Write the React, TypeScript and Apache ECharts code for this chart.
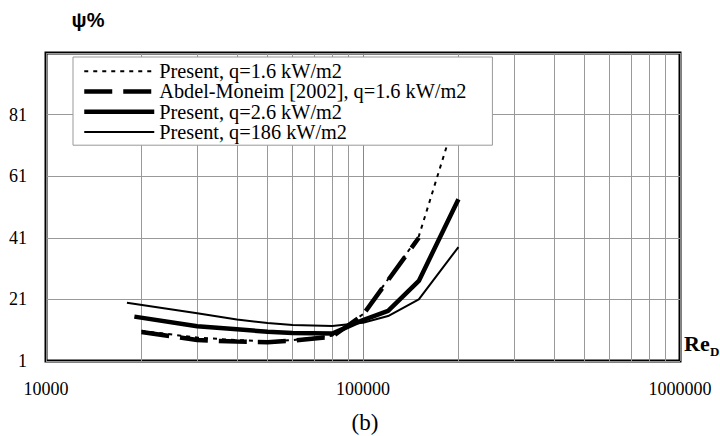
import React, { useEffect, useRef } from "react";
import * as echarts from "echarts";

const seriesNames = [
  "Present, q=1.6 kW/m2",
  "Abdel-Moneim [2002], q=1.6 kW/m2",
  "Present, q=2.6 kW/m2",
  "Present, q=186 kW/m2",
];

const rePresent16 = [20000, 30000, 40000, 50000, 60000, 80000, 100000, 150000, 200000];
const psiPresent16 = [10.8, 8.6, 7.8, 7.4, 7.8, 9.2, 16.2, 41.5, 83];

const reAbdel = [20000, 30000, 40000, 50000, 60000, 80000, 100000, 150000];
const psiAbdel = [10.4, 7.8, 7.3, 7.1, 7.6, 8.9, 16.0, 41.0];

const rePresent26 = [19000, 30000, 40000, 50000, 60000, 80000, 100000, 120000, 150000, 200000];
const psiPresent26 = [15.4, 12.3, 11.3, 10.5, 10.1, 9.9, 14.3, 17.3, 27.0, 53.5];

const rePresent186 = [18000, 30000, 40000, 50000, 60000, 80000, 100000, 120000, 150000, 200000];
const psiPresent186 = [19.9, 16.5, 14.5, 13.3, 12.7, 12.4, 13.4, 15.6, 21.0, 38.0];

const xTicks = [10000, 100000, 1000000];
const yMin = 1;
const yMax = 101;
const yStep = 20;

const pairs = (xs: number[], ys: number[]) => xs.map((x, i) => [x, ys[i]]);

export default function App() {
  const ref = useRef<HTMLDivElement>(null);
  useEffect(() => {
    if (!ref.current) return;
    const chart = echarts.init(ref.current, undefined, { renderer: "svg" });
    const serif = "Liberation Serif";
    chart.setOption({
      animation: false,
      backgroundColor: "#ffffff",
      grid: {
        left: 46,
        right: 40,
        top: 53,
        bottom: 75,
        show: true,
        borderColor: "#000",
        borderWidth: 3,
        backgroundColor: "transparent",
      },
      legend: {
        orient: "vertical",
        left: 73,
        top: 57,
        padding: [4, 26, 3, 9],
        itemGap: 0,
        itemWidth: 70,
        itemHeight: 14,
        selectedMode: false,
        backgroundColor: "#fff",
        borderColor: "#999",
        borderWidth: 1,
        itemStyle: { opacity: 0 },
        lineStyle: { width: "inherit" },
        textStyle: { fontFamily: serif, fontSize: 20.3, color: "#000", lineHeight: 20.3 },
        data: seriesNames,
      },
      xAxis: {
        type: "log",
        logBase: 10,
        min: xTicks[0],
        max: xTicks[xTicks.length - 1],
        axisLine: { show: false },
        axisTick: { show: false },
        axisLabel: {
          fontFamily: serif,
          fontSize: 18,
          color: "#000",
          margin: 19,
          formatter: (v: number) => String(v),
        },
        splitLine: { show: true, lineStyle: { color: "#888", width: 1 } },
        minorTick: { show: false, splitNumber: 9 },
        minorSplitLine: { show: true, lineStyle: { color: "#999", width: 1 } },
      },
      yAxis: {
        type: "value",
        min: yMin,
        max: yMax,
        interval: yStep,
        axisLine: { show: false },
        axisTick: { show: false },
        axisLabel: {
          fontFamily: serif,
          fontSize: 18,
          color: "#000",
          margin: 19,
          formatter: (v: number) => (v >= yMax ? "" : String(v)),
        },
        splitLine: { show: true, lineStyle: { color: "#999", width: 1 } },
      },
      graphic: [
        {
          type: "text",
          x: 88,
          y: 20,
          style: {
            text: "ψ%",
            font: "bold 20px 'Liberation Sans'",
            fill: "#000",
            align: "center",
            verticalAlign: "middle",
          },
        },
        {
          type: "text",
          x: 684,
          y: 343,
          style: {
            text: "Re",
            font: "bold 22px 'Liberation Serif'",
            fill: "#000",
            align: "left",
            verticalAlign: "middle",
          },
        },
        {
          type: "text",
          x: 710,
          y: 351,
          style: {
            text: "D",
            font: "bold 13px 'Liberation Serif'",
            fill: "#000",
            align: "left",
            verticalAlign: "middle",
          },
        },
        {
          type: "text",
          x: 365,
          y: 422,
          style: {
            text: "(b)",
            font: "23px 'Liberation Serif'",
            fill: "#000",
            align: "center",
            verticalAlign: "middle",
          },
        },
      ],
      series: [
        {
          name: seriesNames[0],
          type: "line",
          symbol: "none",
          data: pairs(rePresent16, psiPresent16),
          lineStyle: { color: "#000", width: 2, type: [4, 5] },
          itemStyle: { color: "#000" },
        },
        {
          name: seriesNames[1],
          type: "line",
          symbol: "none",
          data: pairs(reAbdel, psiAbdel),
          lineStyle: { color: "#000", width: 4.5, type: [28, 11] },
          itemStyle: { color: "#000" },
        },
        {
          name: seriesNames[2],
          type: "line",
          symbol: "none",
          data: pairs(rePresent26, psiPresent26),
          lineStyle: { color: "#000", width: 4.5, type: "solid" },
          itemStyle: { color: "#000" },
        },
        {
          name: seriesNames[3],
          type: "line",
          symbol: "none",
          data: pairs(rePresent186, psiPresent186),
          lineStyle: { color: "#000", width: 2, type: "solid" },
          itemStyle: { color: "#000" },
        },
      ],
    });
    return () => chart.dispose();
  }, []);
  return <div ref={ref} style={{ width: 720, height: 436, position: "absolute", left: 0, top: 0 }} />;
}
